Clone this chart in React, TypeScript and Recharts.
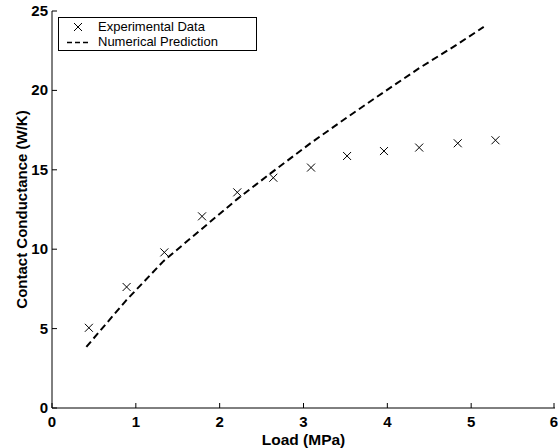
import { ComposedChart, Scatter, XAxis, YAxis, Legend, Label } from 'recharts'

// experimental points
const loadExp = [0.44, 0.89, 1.34, 1.79, 2.21, 2.64, 3.09, 3.52, 3.96, 4.38, 4.84, 5.29]
const conductanceExp = [5.05, 7.62, 9.8, 12.07, 13.58, 14.5, 15.14, 15.87, 16.18, 16.4, 16.67, 16.86]

// numerical prediction
const loadPred = [0.41, 0.88, 1.33, 1.78, 2.22, 2.65, 3.09, 3.52, 3.96, 4.38, 4.82, 5.15]
const conductancePred = [3.85, 6.75, 9.25, 11.25, 13.2, 14.95, 16.7, 18.3, 19.9, 21.4, 22.85, 24.0]

const xTicks = [0, 1, 2, 3, 4, 5, 6]
const yTicks = [0, 5, 10, 15, 20, 25]

const expData = loadExp.map((x, i) => ({ x, y: conductanceExp[i] }))
const predData = loadPred.map((x, i) => ({ x, y: conductancePred[i] }))

const FONT = '"Liberation Sans", Arial, Helvetica, sans-serif'
const tickFont = { fontFamily: FONT, fontWeight: 700, fontSize: 15, fill: '#000' }

const BottomTick = ({ x, y, payload }: any) => (
  <g>
    <line x1={x} y1={y} x2={x} y2={y - 5} stroke="#000" />
    <text x={x} y={y + 19} textAnchor="middle" style={tickFont}>
      {payload.value}
    </text>
  </g>
)

const LeftTick = ({ x, y, payload }: any) => (
  <g>
    <line x1={x} y1={y} x2={x + 5} y2={y} stroke="#000" />
    <text x={x - 4} y={y + 5} textAnchor="end" style={tickFont}>
      {payload.value}
    </text>
  </g>
)

const TopTick = ({ x, y }: any) => <line x1={x} y1={y} x2={x} y2={y + 5} stroke="#000" />
const RightTick = ({ x, y }: any) => <line x1={x} y1={y} x2={x - 5} y2={y} stroke="#000" />

const Cross = ({ cx, cy }: any) => (
  <path
    d={`M${cx - 4},${cy - 4}L${cx + 4},${cy + 4}M${cx - 4},${cy + 4}L${cx + 4},${cy - 4}`}
    stroke="#000"
    strokeWidth={1}
    fill="none"
  />
)

const LegendBox = () => (
  <div
    style={{
      width: 197,
      height: 32,
      border: '1px solid #000',
      background: '#fff',
      position: 'relative',
      fontFamily: FONT,
      fontSize: 13,
      color: '#000'
    }}
  >
    <svg width={40} height={32} style={{ position: 'absolute', left: 0, top: 0 }}>
      <Cross cx={19} cy={9} />
      <line x1={8} y1={24.5} x2={30} y2={24.5} stroke="#000" strokeWidth={1.5} strokeDasharray="5 3" />
    </svg>
    <div style={{ position: 'absolute', left: 39, top: 1, lineHeight: '16px' }}>Experimental Data</div>
    <div style={{ position: 'absolute', left: 39, top: 16, lineHeight: '16px' }}>Numerical Prediction</div>
  </div>
)

export default function App() {
  return (
    <div style={{ position: 'absolute', left: 0, top: 0, background: '#fff' }}>
      <ComposedChart width={558} height={448} margin={{ top: 11, right: 3, bottom: 0, left: 0 }}>
        <XAxis
          dataKey="x"
          type="number"
          domain={[0, 6]}
          ticks={xTicks}
          allowDataOverflow
          height={40}
          tickSize={0}
          tickMargin={0}
          tickLine={false}
          tick={<BottomTick />}
          axisLine={{ stroke: '#000' }}
        >
          <Label
            value="Load (MPa)"
            position="insideBottom"
            offset={3}
            style={{ fontFamily: FONT, fontWeight: 700, fontSize: 15.5, fill: '#000' }}
          />
        </XAxis>
        <XAxis
          xAxisId="top"
          orientation="top"
          type="number"
          domain={[0, 6]}
          ticks={xTicks}
          allowDataOverflow
          height={0}
          tickSize={0}
          tickMargin={0}
          tickLine={false}
          tick={<TopTick />}
          axisLine={{ stroke: '#000' }}
        />
        <YAxis
          dataKey="y"
          type="number"
          domain={[0, 25]}
          ticks={yTicks}
          allowDataOverflow
          width={52}
          tickSize={0}
          tickMargin={0}
          tickLine={false}
          tick={<LeftTick />}
          axisLine={{ stroke: '#000' }}
        >
          <Label
            value="Contact Conductance (W/K)"
            angle={-90}
            position="insideLeft"
            offset={22}
            style={{ fontFamily: FONT, fontWeight: 700, fontSize: 15, fill: '#000', textAnchor: 'middle' }}
          />
        </YAxis>
        <YAxis
          yAxisId="right"
          orientation="right"
          type="number"
          domain={[0, 25]}
          ticks={yTicks}
          allowDataOverflow
          width={0}
          tickSize={0}
          tickMargin={0}
          tickLine={false}
          tick={<RightTick />}
          axisLine={{ stroke: '#000' }}
        />
        <Legend
          layout="vertical"
          align="center"
          verticalAlign="middle"
          wrapperStyle={{ left: 58, top: 17, width: 'auto' }}
          content={() => <LegendBox />}
        />
        <Scatter
          name="Numerical Prediction"
          data={predData}
          line={{ stroke: '#000', strokeWidth: 2, strokeDasharray: '7 4' }}
          lineType="joint"
          shape={() => <g />}
          isAnimationActive={false}
        />
        <Scatter
          name="Experimental Data"
          data={expData}
          shape={<Cross />}
          isAnimationActive={false}
        />
      </ComposedChart>
    </div>
  )
}
